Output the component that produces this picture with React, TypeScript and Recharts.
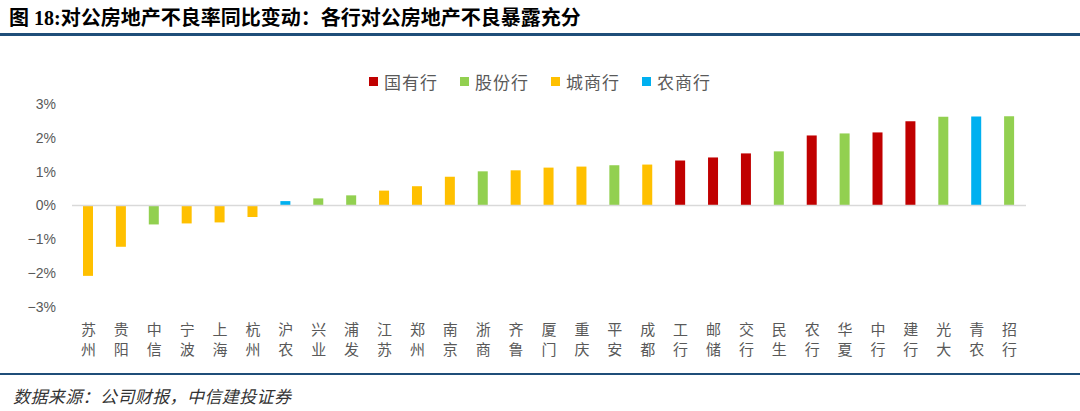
import { Bar, BarChart, Legend, ReferenceLine, XAxis, YAxis } from 'recharts'

const categories = [
  '苏州', '贵阳', '中信', '宁波', '上海', '杭州', '沪农', '兴业', '浦发', '江苏',
  '郑州', '南京', '浙商', '齐鲁', '厦门', '重庆', '平安', '成都', '工行', '邮储',
  '交行', '民生', '农行', '华夏', '中行', '建行', '光大', '青农', '招行',
]

const values = [
  -2.08, -1.22, -0.56, -0.53, -0.5, -0.34, 0.13, 0.21, 0.3, 0.44,
  0.57, 0.85, 1.01, 1.04, 1.12, 1.15, 1.19, 1.21, 1.33, 1.42,
  1.54, 1.6, 2.07, 2.13, 2.16, 2.49, 2.62, 2.63, 2.64,
]

const groups = [
  '城商行', '城商行', '股份行', '城商行', '城商行', '城商行', '农商行', '股份行', '股份行', '城商行',
  '城商行', '城商行', '股份行', '城商行', '城商行', '城商行', '股份行', '城商行', '国有行', '国有行',
  '国有行', '股份行', '国有行', '股份行', '国有行', '国有行', '股份行', '农商行', '股份行',
]

const seriesNames = ['国有行', '股份行', '城商行', '农商行']
const seriesColors = ['#C00000', '#92D050', '#FFC000', '#00B0F0']

const yTicks = [-3, -2, -1, 0, 1, 2, 3]

const data = categories.map((name, i) => {
  const row: Record<string, string | number | null> = { name }
  seriesNames.forEach((s) => {
    row[s] = groups[i] === s ? values[i] : null
  })
  return row
})

const CJK = '"Noto Sans CJK SC", "Liberation Sans", sans-serif'

function CategoryTick({ x, y, payload }: any) {
  const chars = String(payload.value).split('')
  return (
    <g transform={`translate(${x},${y})`}>
      {chars.map((c, i) => (
        <text
          key={i}
          x={0}
          y={13 + i * 20}
          textAnchor="middle"
          dominantBaseline="central"
          fill="#595959"
          fontSize={15}
          fontFamily={CJK}
        >
          {c}
        </text>
      ))}
    </g>
  )
}

function LegendContent() {
  return (
    <div
      style={{
        display: 'flex',
        justifyContent: 'center',
        alignItems: 'center',
        height: 24,
        gap: 22,
        fontFamily: CJK,
        fontSize: 17,
        color: '#595959',
        letterSpacing: 1,
      }}
    >
      {seriesNames.map((s, i) => (
        <div key={s} style={{ display: 'flex', alignItems: 'center' }}>
          <span
            style={{
              width: 9,
              height: 9,
              background: seriesColors[i],
              display: 'inline-block',
              marginRight: 6,
            }}
          />
          <span>{s}</span>
        </div>
      ))}
    </div>
  )
}

export default function App() {
  return (
    <div
      style={{
        position: 'absolute',
        left: 0,
        top: 0,
        width: 1080,
        height: 411,
        background: '#fff',
        overflow: 'hidden',
      }}
    >
      <div
        style={{
          position: 'absolute',
          left: 9,
          top: 2,
          fontFamily: '"Liberation Serif", "Noto Sans CJK SC", serif',
          fontWeight: 'bold',
          fontSize: 20,
          color: '#000',
          whiteSpace: 'nowrap',
        }}
      >
        图 18:对公房地产不良率同比变动：各行对公房地产不良暴露充分
      </div>
      <div
        style={{
          position: 'absolute',
          left: 0,
          top: 33,
          width: 1080,
          height: 3,
          background: '#1F4E79',
        }}
      />
      <div style={{ position: 'absolute', left: 0, top: 40 }}>
        <BarChart
          width={1080}
          height={330}
          data={data}
          margin={{ top: 40, right: 54, bottom: 0, left: 12 }}
          barSize={10}
        >
          <Legend
            verticalAlign="top"
            align="center"
            content={() => <LegendContent />}
            wrapperStyle={{ top: 29, left: 0, width: 1080 }}
          />
          <XAxis
            dataKey="name"
            axisLine={false}
            tickLine={false}
            interval={0}
            height={63}
            tick={<CategoryTick />}
          />
          <YAxis
            domain={[-3, 3]}
            ticks={yTicks}
            width={60}
            axisLine={false}
            tickLine={false}
            tickMargin={10}
            tick={{ fill: '#595959', fontSize: 14, fontFamily: '"Liberation Sans", Arial, sans-serif' }}
            tickFormatter={(v) => (v < 0 ? `−${-v}%` : `${v}%`)}
          />
          {seriesNames.map((s, i) => (
            <Bar
              key={s}
              dataKey={s}
              stackId="a"
              fill={seriesColors[i]}
              isAnimationActive={false}
            />
          ))}
          <ReferenceLine y={0} stroke="#D9D9D9" strokeWidth={1.5} />
        </BarChart>
      </div>
      <div
        style={{
          position: 'absolute',
          left: 0,
          top: 373,
          width: 1080,
          height: 2,
          background: '#1F4E79',
        }}
      />
      <div
        style={{
          position: 'absolute',
          left: 13,
          top: 383,
          fontFamily: CJK,
          fontStyle: 'italic',
          fontSize: 17,
          letterSpacing: 0.4,
          color: '#333',
          whiteSpace: 'nowrap',
        }}
      >
        数据来源：公司财报，中信建投证券
      </div>
    </div>
  )
}
